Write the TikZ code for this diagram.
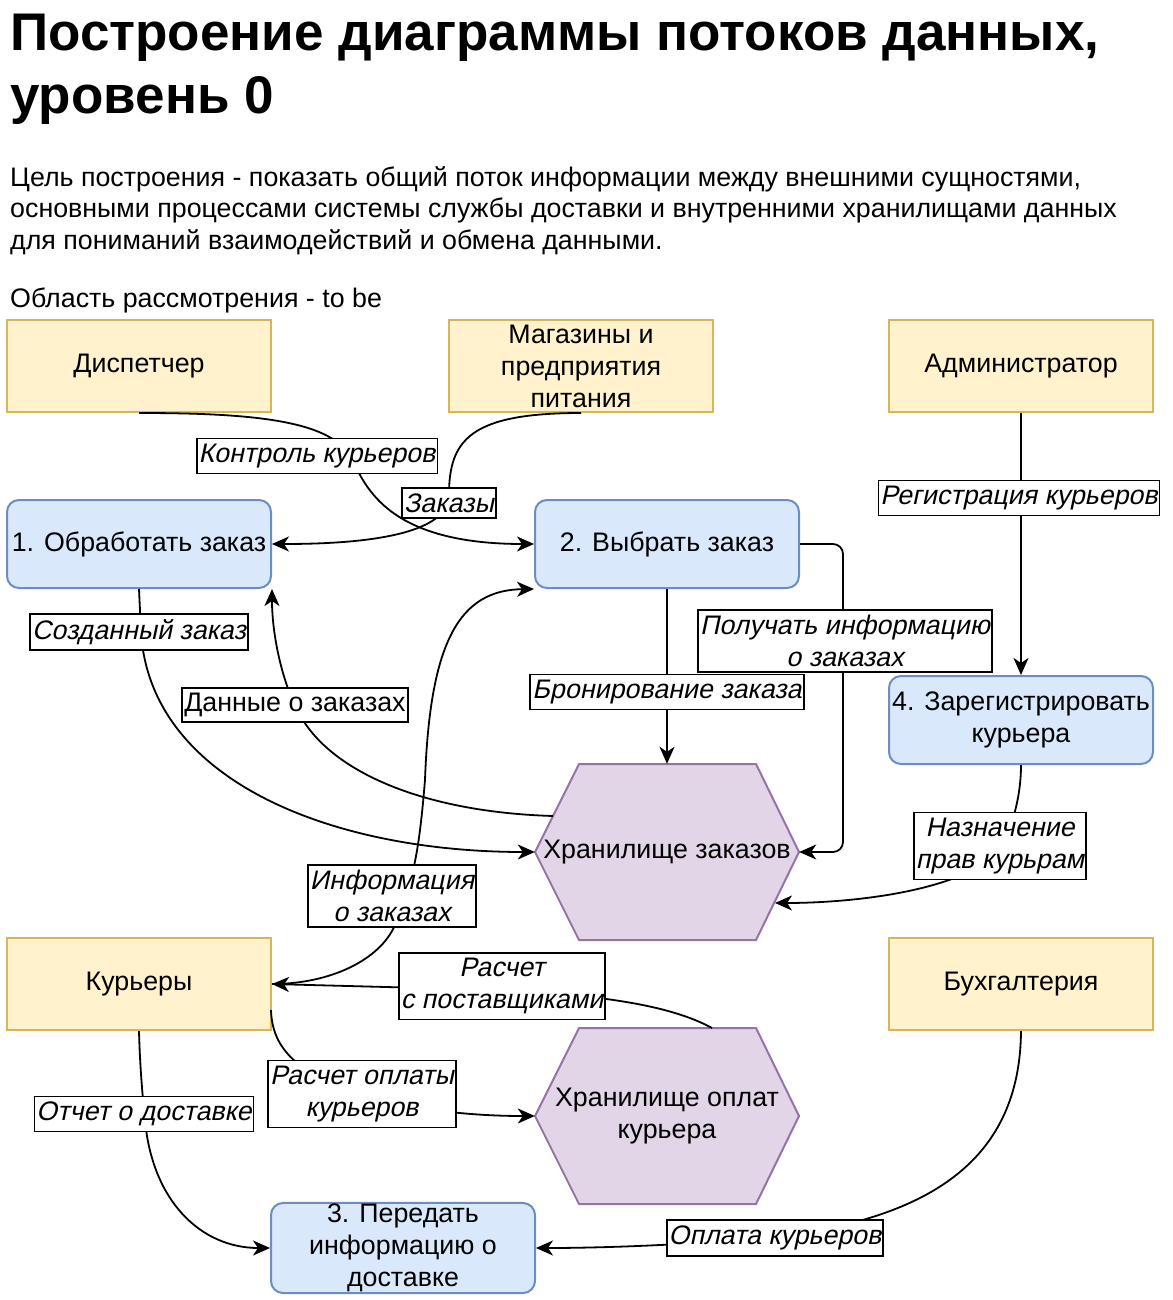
\documentclass[tikz,border=0pt]{standalone}
\usepackage{fontspec}
\setmainfont{Liberation Sans}
\newfontfamily\oblfont[FakeSlant=0.21]{Liberation Sans}
\usetikzlibrary{arrows.meta}
\definecolor{ylwF}{HTML}{FFF2CC}
\definecolor{ylwD}{HTML}{D6B656}
\definecolor{bluF}{HTML}{DAE8FC}
\definecolor{bluD}{HTML}{6C8EBF}
\definecolor{purF}{HTML}{E1D5E7}
\definecolor{purD}{HTML}{9673A6}
\begin{document}
\begin{tikzpicture}[x=1pt,y=-1pt,
  txt/.style={font=\fontsize{26.8}{32}\selectfont},
  ent/.style={txt, draw=ylwD, fill=ylwF, line width=2pt, minimum width=264pt, minimum height=92pt, inner sep=1pt, align=center},
  proc/.style={txt, draw=bluD, fill=bluF, line width=2pt, rounded corners=12pt, minimum width=264pt, minimum height=88pt, inner sep=1pt, align=center},
  hexs/.style={draw=purD, fill=purF, line width=2pt, line join=miter},
  store/.style={txt, minimum width=264pt, minimum height=176pt, inner sep=0pt, align=center},
  lbl/.style={draw=black, fill=white, line width=1.8pt, inner xsep=2pt, inner ysep=5.5pt, align=center, font=\fontsize{26.8}{32}\selectfont\oblfont},
  lblu/.style={lbl, font=\fontsize{26.8}{32}\selectfont\rmfamily},
  flow/.style={line width=1.8pt, -{Stealth[length=17pt, width=15pt, inset=5pt]}},
  ttl/.style={anchor=base west, inner sep=0pt, font=\fontsize{53}{63}\selectfont\bfseries},
  para/.style={anchor=base west, inner sep=0pt, txt}
]
\useasboundingbox (0,0) rectangle (1172,1300);
% title and text
\node[ttl] (t1) at (10,51) {Построение диаграммы потоков данных,};
\node[ttl] (t2) at (10,114) {уровень 0};
\node[para] (p1) at (10,186) {Цель построения - показать общий поток информации между внешними сущностями,};
\node[para] (p2) at (10,218) {основными процессами системы службы доставки и внутренними хранилищами данных};
\node[para] (p3) at (10,249) {для пониманий взаимодействий и обмена данными.};
\node[para] (p4) at (10,307) {Область рассмотрения - to be};

% hexagons
\path[hexs] (535,852) -- (579,764) -- (756,764) -- (799,852) -- (756,940) -- (579,940) -- cycle;
\path[hexs] (535,1116) -- (579,1028) -- (756,1028) -- (799,1116) -- (756,1204) -- (579,1204) -- cycle;

% entities
\node[ent] (D) at (139,366) {Диспетчер};
\node[ent] (M) at (581,366) {Магазины и\\предприятия\\питания};
\node[ent] (A) at (1021,366) {Администратор};
\node[ent] (K) at (139,984) {Курьеры};
\node[ent] (B) at (1021,984) {Бухгалтерия};
% processes
\node[proc] (P1) at (139,544) {1. Обработать заказ};
\node[proc] (P2) at (667,544) {2. Выбрать заказ};
\node[proc] (P4) at (1021,720) {4. Зарегистрировать\\курьера};
\node[proc] (P3) at (403,1248) {3. Передать\\информацию о\\доставке};
% stores
\node[store] (HZ) at (667,852) {Хранилище заказов};
\node[store] (HO) at (667,1116) {Хранилище оплат\\курьера};

\coordinate (hz1) at (553,816);
\coordinate (hz2) at (775,903);
\coordinate (ho1) at (712,1028);
\coordinate (k2) at (271,1010);

% connectors
\draw[flow] (D.south) .. controls (250,413) and (329,420) .. (350,456) .. controls (364,480) and (380,544) .. (P2.west);
\draw[flow] (M.south) .. controls (470,413) and (449,440) .. (449,495) .. controls (449,540) and (340,544) .. (P1.east);
\draw[flow] (A.south) -- (P4.north);
\draw[flow] (P1.south) -- (141,632) .. controls (150,780) and (330,852) .. (HZ.west);
\draw[flow] (hz1) .. controls (420,812) and (330,770) .. (300,715) .. controls (285,690) and (272,640) .. (P1.south east);
\draw[flow] (K.east) .. controls (330,984) and (380,960) .. (395,925) .. controls (415,880) and (420,840) .. (425,780) .. controls (430,640) and (460,590) .. (P2.south west);
\draw[flow] (ho1) .. controls (670,1005) and (600,995) .. (500,990) -- (K.east);
\draw[flow] (k2) .. controls (272,1050) and (300,1075) .. (362,1094) .. controls (420,1112) and (480,1116) .. (HO.west);
\draw[flow] (K.south) .. controls (140,1070) and (143,1100) .. (145,1120) .. controls (152,1200) and (200,1248) .. (P3.west);
\draw[flow] (B.south) .. controls (1020,1160) and (930,1215) .. (790,1235) .. controls (700,1245) and (600,1248) .. (P3.east);
\draw[flow] (P2.south) -- (HZ.north);
\draw[flow, rounded corners=10pt] (P2.east) -- (843,544) -- (843,852) -- (HZ.east);
\draw[flow] (P4.south) .. controls (1021,800) and (1010,840) .. (990,860) .. controls (940,895) and (840,903) .. (hz2);

% labels
\node[lbl] (l1) at (317,456) {Контроль курьеров};
\node[lbl] (l2) at (449,503) {Заказы};
\node[lbl] (l3) at (1019,498) {Регистрация курьеров};
\node[lbl] (l4) at (139,632) {Созданный заказ};
\node[lblu] (l5) at (295,705) {Данные о заказах};
\node[lbl] (l6) at (667,692) {Бронирование заказа};
\node[lbl] (l7) at (845,641) {Получать информацию\\о заказах};
\node[lbl] (l8) at (1000,846) {Назначение\\прав курьрам};
\node[lbl] (l9) at (392,896) {Информация\\о заказах};
\node[lbl] (l10) at (502,986) {Расчет\\с поставщиками};
\node[lbl] (l11) at (362,1094) {Расчет оплаты\\курьеров};
\node[lbl] (l12) at (144,1114) {Отчет о доставке};
\node[lbl] (l13) at (775,1238) {Оплата курьеров};
\end{tikzpicture}
\end{document}
